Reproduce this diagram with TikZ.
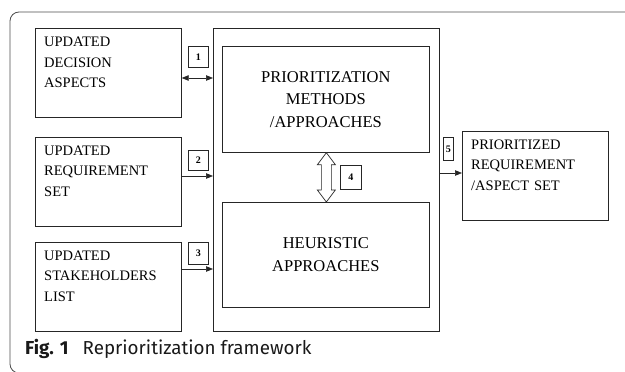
\documentclass[tikz,border=0pt]{standalone}
\usepackage{fontspec}
\setmainfont{Liberation Serif}
\newfontfamily\capfont{Fira Sans}
\usetikzlibrary{arrows.meta,calc}
\begin{document}
\begin{tikzpicture}[x=1pt,y=-1pt,
 box/.style={draw=black!85, line width=0.7pt, inner sep=0pt, anchor=north west},
 lbl/.style={box, font=\rmfamily\fontsize{10}{12}\selectfont\bfseries},
 txt/.style={inner sep=0pt, anchor=north west, text width=145pt, align=left, font=\rmfamily\fontsize{14.5}{20.5}\selectfont},
 ctxt/.style={box, align=center, font=\rmfamily\fontsize{16.5}{22.5}\selectfont},
 arr/.style={-{Triangle[length=7pt,width=5.5pt]}, line width=0.7pt, draw=black!85},
 frame/.style={draw=black!70, line width=0.8pt, rounded corners=9pt},
]
\useasboundingbox (0,0) rectangle (625,372);
\clip (0,0) rectangle (625,372);
\coordinate (fa) at (640,12);
\coordinate (fb) at (10,12);
\coordinate (fc) at (10,373);
\coordinate (fd) at (640,373);
\draw[frame] (fa) -- (fb) -- (fc) -- (fd);

% left boxes
\node[box, minimum width=146, minimum height=89] (b1) at (35,28) {};
\node[box, minimum width=146, minimum height=89] (b2) at (35,137) {};
\node[box, minimum width=146, minimum height=89] (b3) at (35,242) {};
\node[txt] (t1) at ([xshift=9pt,yshift=-6.5pt]b1.north west) {\rule{0pt}{12pt}UPDATED\\DECISION\\ASPECTS};
\node[txt] (t2) at ([xshift=9pt,yshift=-6pt]b2.north west) {\rule{0pt}{12pt}UPDATED\\REQUIREMENT\\SET};
\node[txt] (t3) at ([xshift=9pt,yshift=-6pt]b3.north west) {\rule{0pt}{12pt}UPDATED\\STAKEHOLDERS\\LIST};

% big box
\node[box, minimum width=226, minimum height=303] (big) at (213,28) {};
\node[ctxt, minimum width=207, minimum height=106] (ptop) at (222,46) {PRIORITIZATION\\METHODS\\/APPROACHES};
\node[ctxt, minimum width=207, minimum height=105] (pbot) at (222,202) {HEURISTIC\\APPROACHES};

% output box
\node[box, minimum width=146, minimum height=89] (out) at (462,131) {};
\node[txt] (t5) at ([xshift=9pt,yshift=-6pt]out.north west) {\rule{0pt}{12pt}PRIORITIZED\\REQUIREMENT\\/ASPECT SET};

% number labels
\node[lbl, minimum width=20, minimum height=21] (l1) at (188,46) {1};
\node[lbl, minimum width=20, minimum height=20] (l2) at (188,150) {2};
\node[lbl, minimum width=20, minimum height=22] (l3) at (188,242) {3};
\node[lbl, minimum width=21, minimum height=24] (l4) at (340,165) {4};
\node[lbl, minimum width=10, minimum height=23] (l5) at (443,137) {5};

% connectors
\draw[arr, {Triangle[length=7pt,width=5.5pt]}-{Triangle[length=7pt,width=5.5pt]}] (b1.east |- 0,78) -- (big.west |- 0,78);
\draw[arr] (b2.east |- 0,176) -- (big.west |- 0,176);
\draw[arr] (b3.east |- 0,269) -- (big.west |- 0,269);
\draw[arr] (big.east |- 0,173) -- (out.west |- 0,173);

% hollow double arrow
\coordinate (h1) at ($(ptop.south)+(0.5,0)$);
\coordinate (h2) at ($(pbot.north)+(0.5,0)$);
\draw[draw=black!85, line width=0.7pt, fill=white]
  (h1) -- ++(9,12) -- ++(-4,0) -- ($(h2)+(5,-12)$) -- ++(4,0) -- (h2)
  -- ++(-9,-12) -- ++(4,0) -- ($(h1)+(-5,12)$) -- ++(-4,0) -- cycle;

% caption
\node[anchor=base west, inner sep=0pt, text=black!90, font=\capfont\fontsize{18.8}{20}\selectfont] (cap) at (25,354) {\textbf{Fig. 1}\hspace{14pt}Reprioritization framework};
\end{tikzpicture}
\end{document}
